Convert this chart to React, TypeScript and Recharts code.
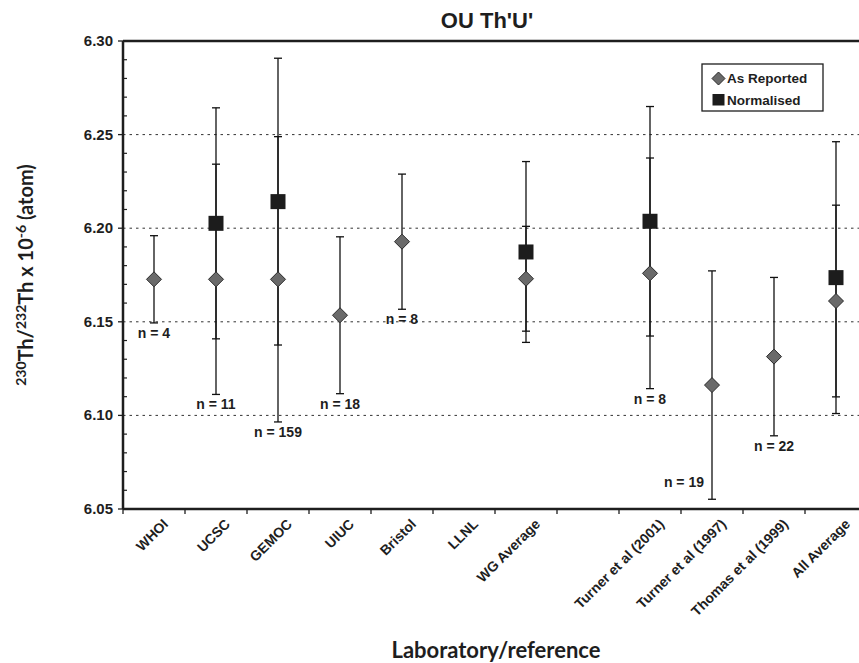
import React from 'react';
import { ScatterChart, Scatter, XAxis, YAxis, ErrorBar, ReferenceLine, Customized } from 'recharts';

const labs = ['WHOI', 'UCSC', 'GEMOC', 'UIUC', 'Bristol', 'LLNL', 'WG Average', '', 'Turner et al (2001)', 'Turner et al (1997)', 'Thomas et al (1999)', 'All Average'];
const reported = [6.1727, 6.1727, 6.1727, 6.1535, 6.1928, null, 6.1730, null, 6.1759, 6.1162, 6.1314, 6.1611];
const reportedErr = [0.0233, 0.0615, 0.0762, 0.0419, 0.0361, null, 0.0280, null, 0.0616, 0.0610, 0.0423, 0.0512];
const normalised = [null, 6.2026, 6.2142, null, null, null, 6.1873, null, 6.2037, null, null, 6.1736];
const normalisedErr = [null, 0.0617, 0.0766, null, null, null, 0.0483, null, 0.0613, null, null, 0.0726];
const counts = ['n = 4', 'n = 11', 'n = 159', 'n = 18', 'n = 8', '', '', '', 'n = 8', 'n = 19', 'n = 22', ''];
const yTicks = [6.05, 6.06, 6.07, 6.08, 6.09, 6.10, 6.11, 6.12, 6.13, 6.14, 6.15, 6.16, 6.17, 6.18, 6.19, 6.20, 6.21, 6.22, 6.23, 6.24, 6.25, 6.26, 6.27, 6.28, 6.29, 6.30];
const yGrid = [6.10, 6.15, 6.20, 6.25];
const yDomain = [6.05, 6.30];
const title = "OU Th'U'";
const xTitle = 'Laboratory/reference';
const seriesNames = ['As Reported', 'Normalised'];

const reportedRows = labs
  .map((lab, i) => ({ x: i + 0.5, y: reported[i], err: reportedErr[i], lab }))
  .filter((r) => r.y != null);
const normalisedRows = labs
  .map((lab, i) => ({ x: i + 0.5, y: normalised[i], err: normalisedErr[i], lab }))
  .filter((r) => r.y != null);
const countRows = labs
  .map((lab, i) => {
    const lows: number[] = [];
    if (reported[i] != null) lows.push((reported[i] as number) - (reportedErr[i] as number));
    if (normalised[i] != null) lows.push((normalised[i] as number) - (normalisedErr[i] as number));
    return { x: i + 0.5, y: lows.length ? Math.min(...lows) : null, n: counts[i] };
  })
  .filter((r) => r.n !== '' && r.y != null);

const xTicks = Array.from({ length: labs.length * 2 + 1 }, (_, k) => k / 2);

const INK = '#1e1e1e';
const SANS = '"Liberation Sans", Arial, Helvetica, sans-serif';
const TITLE_FONT = 'Lato, "DejaVu Sans", sans-serif';

const XTick = (props: any) => {
  const { x, y, payload } = props;
  const v = payload.value;
  if (Number.isInteger(v)) {
    return <line x1={x} y1={y} x2={x} y2={y + 5} stroke={INK} strokeWidth={1.3} />;
  }
  const lab = labs[Math.floor(v)];
  if (!lab) return null;
  const ax = x + 15;
  const ay = y + 16;
  return (
    <text x={ax} y={ay} textAnchor="end" transform={`rotate(-45 ${ax} ${ay})`} fontFamily={SANS} fontWeight="bold" fontSize={14} fill={INK}>
      {lab}
    </text>
  );
};

const YTick = (props: any) => {
  const { x, y, payload } = props;
  const v = payload.value as number;
  const major = Math.round(v * 100) % 5 === 0;
  if (major) {
    return (
      <g>
        <line x1={x - 5} y1={y} x2={x} y2={y} stroke={INK} strokeWidth={1.3} />
        <text x={x - 10} y={y} dy={5} textAnchor="end" fontFamily={SANS} fontWeight="bold" fontSize={15} fill={INK}>
          {v.toFixed(2)}
        </text>
      </g>
    );
  }
  return <line x1={x} y1={y} x2={x + 4} y2={y} stroke={INK} strokeWidth={1.2} />;
};

const Diamond = (props: any) => {
  const { cx, cy } = props;
  const r = 7.5;
  return <polygon points={`${cx},${cy - r} ${cx + r},${cy} ${cx},${cy + r} ${cx - r},${cy}`} fill="#6a6a6a" stroke="#2a2a2a" strokeWidth={1} />;
};

const Square = (props: any) => {
  const { cx, cy } = props;
  const s = 15;
  return <rect x={cx - s / 2} y={cy - s / 2} width={s} height={s} fill="#1c1c1c" />;
};

const CountLabel = (props: any) => {
  const { cx, cy, payload } = props;
  const roomBelow = payload.y - 0.012 > yDomain[0];
  if (roomBelow) {
    return (
      <text x={cx} y={cy + 15} textAnchor="middle" fontFamily={SANS} fontWeight="bold" fontSize={14} fill={INK}>
        {payload.n}
      </text>
    );
  }
  return (
    <text x={cx - 8} y={cy - 12} textAnchor="end" fontFamily={SANS} fontWeight="bold" fontSize={14} fill={INK}>
      {payload.n}
    </text>
  );
};

const Decorations = () => (
  <g>
    <text x={487} y={28} textAnchor="middle" fontFamily={SANS} fontWeight="bold" fontSize={22} fill={INK}>
      {title}
    </text>
    <text x={496} y={658} textAnchor="middle" fontFamily={TITLE_FONT} fontWeight="bold" fontSize={22} fill={INK}>
      {xTitle}
    </text>
    <text x={33} y={275} textAnchor="middle" transform="rotate(-90 33 275)" fontFamily={TITLE_FONT} fontWeight="bold" fontSize={20} fill={INK}>
      <tspan fontSize={14} dy={-7}>230</tspan>
      <tspan dy={7}>Th/</tspan>
      <tspan fontSize={14} dy={-7}>232</tspan>
      <tspan dy={7}>{'Th x 10'}</tspan>
      <tspan fontSize={14} dy={-7}>-6</tspan>
      <tspan dy={7}>{'\u00a0(atom)'}</tspan>
    </text>
    <g>
      <rect x={702} y={64} width={121} height={47} fill="#fff" stroke={INK} strokeWidth={1.3} />
      <polygon points="718.5,72 725,78.5 718.5,85 712,78.5" fill="#6a6a6a" stroke="#2a2a2a" strokeWidth={1} />
      <text x={727} y={83} fontFamily={SANS} fontWeight="bold" fontSize={13.5} fill={INK}>{seriesNames[0]}</text>
      <rect x={712.5} y={94} width={12} height={11.5} fill="#1c1c1c" />
      <text x={727} y={105} fontFamily={SANS} fontWeight="bold" fontSize={13.5} fill={INK}>{seriesNames[1]}</text>
    </g>
  </g>
);

export default function App() {
  return (
    <div style={{ position: 'absolute', left: 0, top: 0, width: 859, height: 663, overflow: 'hidden', background: '#fff' }}>
      <ScatterChart width={880} height={663} margin={{ top: 41, right: 13, left: 0, bottom: 0 }}>
        <XAxis
          type="number"
          dataKey="x"
          domain={[0, labs.length]}
          ticks={xTicks}
          interval={0}
          tick={<XTick />}
          tickLine={false}
          tickSize={0}
          tickMargin={0}
          height={154}
          axisLine={{ stroke: INK, strokeWidth: 2.5 }}
          allowDecimals
        />
        <YAxis
          type="number"
          dataKey="y"
          domain={yDomain}
          ticks={yTicks}
          interval={0}
          tick={<YTick />}
          tickLine={false}
          tickSize={0}
          tickMargin={0}
          width={123}
          axisLine={{ stroke: INK, strokeWidth: 2.5 }}
          allowDataOverflow
        />
        {yGrid.map((v) => (
          <ReferenceLine key={v} y={v} stroke="#333" strokeWidth={1} strokeDasharray="2.5 4" />
        ))}
        <ReferenceLine y={yDomain[1]} stroke={INK} strokeWidth={2.5} />
        <Scatter name={seriesNames[1]} data={normalisedRows} shape={<Square />} isAnimationActive={false}>
          <ErrorBar dataKey="err" direction="y" width={4} stroke="#111" strokeWidth={1.3} isAnimationActive={false} />
        </Scatter>
        <Scatter name={seriesNames[0]} data={reportedRows} shape={<Diamond />} isAnimationActive={false}>
          <ErrorBar dataKey="err" direction="y" width={4} stroke="#111" strokeWidth={1.3} isAnimationActive={false} />
        </Scatter>
        <Scatter name="counts" data={countRows} shape={<CountLabel />} isAnimationActive={false} legendType="none" />
        <Customized component={Decorations} />
      </ScatterChart>
    </div>
  );
}
